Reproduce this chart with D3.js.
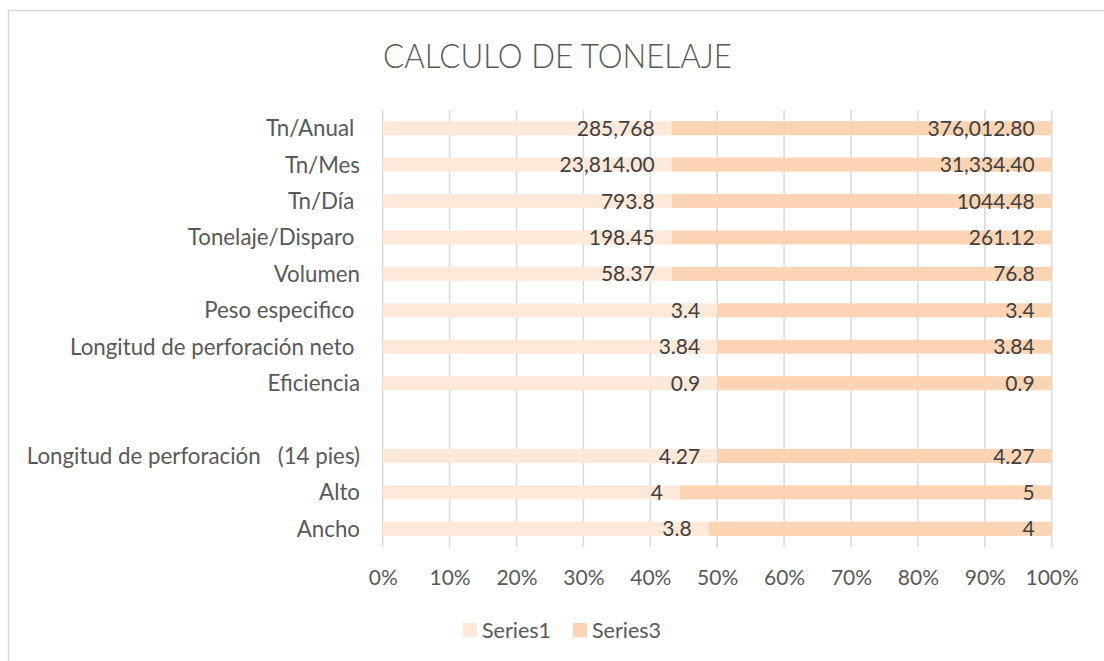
<!DOCTYPE html>
<html>
<head>
<meta charset="utf-8">
<script src="https://cdn.jsdelivr.net/npm/d3@7"></script>
<style>
  html, body { margin: 0; padding: 0; background: #fff; }
  svg text { white-space: pre; }
</style>
</head>
<body>
<svg id="chart" width="1104" height="661"></svg>
<script>
// Row captions, top to bottom (trailing spaces are part of the source captions)
const categories = [
  "Tn/Anual ",
  "Tn/Mes",
  "Tn/Día ",
  "Tonelaje/Disparo ",
  "Volumen",
  "Peso especifico ",
  "Longitud de perforación neto ",
  "Eficiencia",
  "",
  "Longitud de perforación   (14 pies)",
  "Alto",
  "Ancho"
];

const series1 = [285768, 23814.00, 793.8, 198.45, 58.37, 3.4, 3.84, 0.9, null, 4.27, 4, 3.8];
const series3 = [376012.80, 31334.40, 1044.48, 261.12, 76.8, 3.4, 3.84, 0.9, null, 4.27, 5, 4];

// Number formats used by the value labels of each series
const series1Formats = [",.0f", ",.2f", "", "", "", "", "", "", "", "", "", ""];
const series3Formats = [",.2f", ",.2f", "", "", "", "", "", "", "", "", "", ""];

const seriesNames = ["Series1", "Series3"];
const seriesColors = ["#FDE9D9", "#FBD4B4"];
const tickValues = [0, 0.1, 0.2, 0.3, 0.4, 0.5, 0.6, 0.7, 0.8, 0.9, 1.0];

const title = "CALCULO DE TONELAJE";

const FONT = "Lato, 'Open Sans', sans-serif";

const svg = d3.select("#chart");

// Chart frame
svg.append("rect")
  .attr("x", 8.5).attr("y", 10.5)
  .attr("width", 1200).attr("height", 800)
  .attr("fill", "#fff")
  .attr("stroke", "#D9D9D9")
  .attr("stroke-width", 1.5);

const plot = { left: 382.7, right: 1051.7, top: 110, bottom: 547 };

const x = d3.scaleLinear().domain([0, 1]).range([plot.left, plot.right]);
const y = d3.scaleBand()
  .domain(d3.range(categories.length))
  .range([plot.top, plot.bottom])
  .paddingInner(0.615)
  .paddingOuter(0.3075);

// Title
svg.append("text")
  .attr("x", 383).attr("y", 67.5)
  .attr("textLength", 349)
  .attr("lengthAdjust", "spacingAndGlyphs")
  .attr("font-family", FONT)
  .attr("font-size", 34)
  .attr("font-weight", 300)
  .attr("fill", "#595959")
  .text(title);

// Vertical gridlines
svg.append("g")
  .selectAll("line")
  .data(tickValues)
  .join("line")
  .attr("x1", d => x(d)).attr("x2", d => x(d))
  .attr("y1", plot.top).attr("y2", plot.bottom)
  .attr("stroke", "#D9D9D9")
  .attr("stroke-width", 1.5);

// Percent axis labels
const xAxis = d3.axisBottom(x)
  .tickValues(tickValues)
  .tickFormat(d3.format(".0%"))
  .tickSize(0)
  .tickPadding(0);

const axisG = svg.append("g")
  .attr("transform", `translate(0,${plot.bottom})`)
  .call(xAxis);
axisG.select(".domain").remove();
axisG.selectAll("text")
  .attr("y", 38)
  .attr("dy", null)
  .attr("font-family", FONT)
  .attr("font-size", 21)
  .attr("fill", "#595959");

// Category labels
const yAxis = d3.axisLeft(y)
  .tickFormat(i => categories[i])
  .tickSize(0)
  .tickPadding(0);
const yAxisG = svg.append("g")
  .attr("transform", `translate(360,0)`)
  .call(yAxis);
yAxisG.select(".domain").remove();
yAxisG.selectAll("text")
  .attr("x", 0)
  .attr("dy", "0.36em")
  .attr("font-family", FONT)
  .attr("font-size", 22.3)
  .attr("fill", "#595959");

// Stack both series as shares of the row total
const rows = categories.map((c, i) => ({
  i,
  values: [series1[i], series3[i]],
  formats: [series1Formats[i], series3Formats[i]]
}));

const segments = [];
rows.forEach(r => {
  if (r.values[0] == null || r.values[1] == null) return;
  const total = r.values[0] + r.values[1];
  let acc = 0;
  r.values.forEach((v, s) => {
    const share = v / total;
    segments.push({ i: r.i, s, v, x0: acc, x1: acc + share, fmt: r.formats[s] });
    acc += share;
  });
});

const barG = svg.append("g");
barG.selectAll("rect")
  .data(segments)
  .join("rect")
  .attr("x", d => x(d.x0))
  .attr("width", d => x(d.x1) - x(d.x0))
  .attr("y", d => y(d.i))
  .attr("height", y.bandwidth())
  .attr("fill", d => seriesColors[d.s]);

// Value labels at the inside end of each segment
barG.selectAll("text")
  .data(segments)
  .join("text")
  .attr("x", d => x(d.x1) - 17)
  .attr("y", d => y(d.i) + y.bandwidth() / 2)
  .attr("dy", "0.36em")
  .attr("text-anchor", "end")
  .attr("font-family", FONT)
  .attr("font-size", 21)
  .attr("fill", "#404040")
  .text(d => d3.format(d.fmt)(d.v));

// Legend
const legend = svg.append("g");
const legendItems = [
  { name: seriesNames[0], color: seriesColors[0], x: 463 },
  { name: seriesNames[1], color: seriesColors[1], x: 573 }
];
legend.selectAll("rect")
  .data(legendItems)
  .join("rect")
  .attr("x", d => d.x).attr("y", 623)
  .attr("width", 14).attr("height", 14)
  .attr("fill", d => d.color);
legend.selectAll("text")
  .data(legendItems)
  .join("text")
  .attr("x", d => d.x + 19)
  .attr("y", 630)
  .attr("dy", "0.36em")
  .attr("font-family", FONT)
  .attr("font-size", 21.5)
  .attr("fill", "#595959")
  .text(d => d.name);
</script>
</body>
</html>
